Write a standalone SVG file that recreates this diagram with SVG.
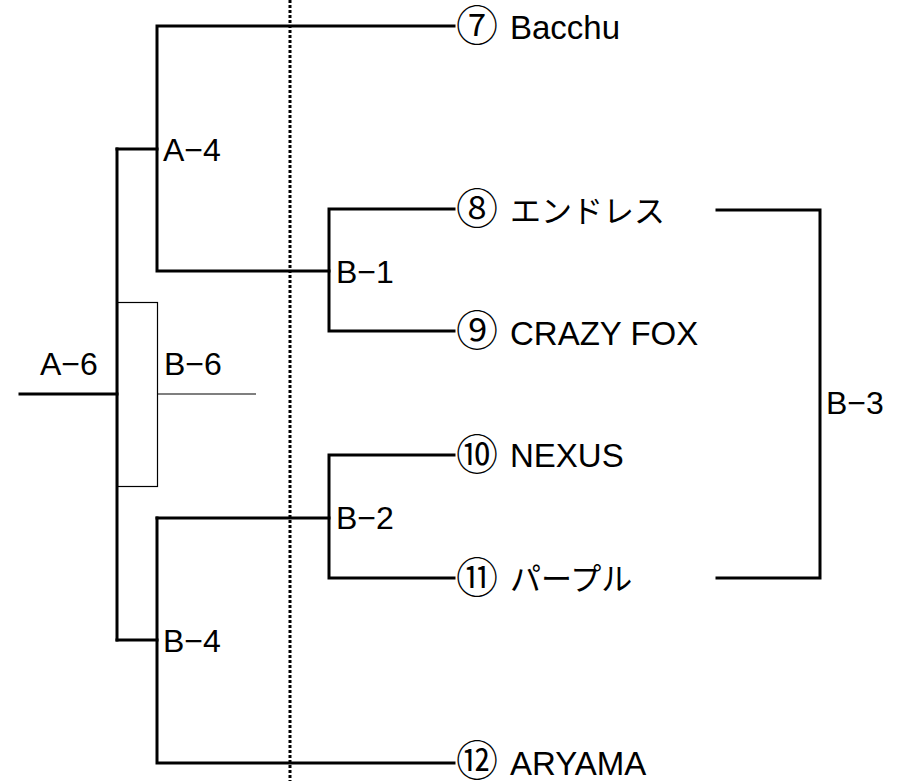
<svg xmlns="http://www.w3.org/2000/svg" width="902" height="781" viewBox="0 0 902 781">
<style>
.bg{fill:#fff}
.thick{fill:none;stroke:#000;stroke-width:3;stroke-linecap:square}
.thin{fill:none;stroke:#000;stroke-width:1.2}
.dot{fill:none;stroke:#000;stroke-width:3;stroke-dasharray:3 2}
text{font-family:"Liberation Sans","Noto Sans CJK JP",sans-serif;font-size:32px;fill:#000}
.name{font-size:33px}
.num{font-family:"Noto Sans CJK JP",sans-serif;font-size:42px;font-weight:350}
.kana{font-family:"Noto Sans CJK JP",sans-serif;font-size:31px}
</style>
<rect class="bg" x="0" y="0" width="902" height="781"/>
<g id="connectors">
<path class="thick" d="M454,26 H157 V271 H329"/>
<path class="thick" d="M117,149 H157"/>
<path class="thick" d="M454,209 H329 V331 H454"/>
<path class="thick" d="M717,210 H820 V578 H717"/>
<path class="thick" d="M454,455 H329 V578 H454"/>
<path class="thick" d="M157,518 H329"/>
<path class="thick" d="M157,518 V763 H454"/>
<path class="thick" d="M117,640 H157"/>
<path class="thick" d="M117,149 V640"/>
<path class="thick" d="M20,394 H117"/>
<rect class="thin" x="117.5" y="302.5" width="40" height="184"/>
<path class="thin" d="M157,394 H256"/>
<path class="dot" d="M290,0 V781"/>
</g>
<g id="A-6"><text x="40" y="375">A−6</text></g>
<g id="B-6"><text x="164" y="375">B−6</text></g>
<g id="A-4"><text x="163" y="161">A−4</text></g>
<g id="B-1"><text x="336" y="283">B−1</text></g>
<g id="B-2"><text x="336" y="529">B−2</text></g>
<g id="B-4"><text x="163" y="652">B−4</text></g>
<g id="B-3"><text x="826" y="414">B−3</text></g>
<g id="team7"><text class="num" x="456" y="41">⑦</text><text class="name" x="510" y="39">Bacchu</text></g>
<g id="team8"><text class="num" x="456" y="224">⑧</text><text class="kana" x="510" y="222">エンドレス</text></g>
<g id="team9"><text class="num" x="456" y="346">⑨</text><text class="name" x="510" y="345">CRAZY FOX</text></g>
<g id="team10"><text class="num" x="456" y="470">⑩</text><text class="name" x="510" y="467">NEXUS</text></g>
<g id="team11"><text class="num" x="456" y="593">⑪</text><text class="kana" x="510" y="590">パープル</text></g>
<g id="team12"><text class="num" x="456" y="776">⑫</text><text class="name" x="510" y="775">ARYAMA</text></g>
</svg>
